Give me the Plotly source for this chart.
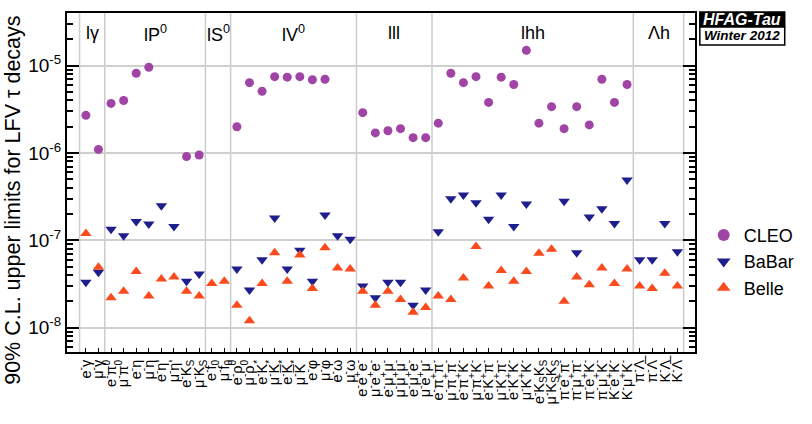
import plotly.graph_objects as go
import numpy as np

labels = [
    "e<sup>-</sup>γ", "μ<sup>-</sup>γ",
    "e<sup>-</sup>π<sup>0</sup>", "μ<sup>-</sup>π<sup>0</sup>", "e<sup>-</sup>η", "μ<sup>-</sup>η",
    "e<sup>-</sup>η'", "μ<sup>-</sup>η'", "e<sup>-</sup>K<sub>S</sub>", "μ<sup>-</sup>K<sub>S</sub>",
    "e<sup>-</sup>f<sub>0</sub>", "μ<sup>-</sup>f<sub>0</sub>",
    "e<sup>-</sup>ρ<sup>0</sup>", "μ<sup>-</sup>ρ<sup>0</sup>", "e<sup>-</sup>K<sup>*</sup>", "μ<sup>-</sup>K<sup>*</sup>",
    "e<sup>-</sup>K\u0305<sup>*</sup>", "μ<sup>-</sup>K\u0305<sup>*</sup>", "e<sup>-</sup>φ", "μ<sup>-</sup>φ",
    "e<sup>-</sup>ω", "μ<sup>-</sup>ω",
    "e<sup>-</sup>e<sup>+</sup>e<sup>-</sup>", "μ<sup>-</sup>e<sup>+</sup>e<sup>-</sup>", "e<sup>-</sup>μ<sup>+</sup>μ<sup>-</sup>",
    "μ<sup>-</sup>μ<sup>+</sup>μ<sup>-</sup>", "e<sup>-</sup>μ<sup>+</sup>e<sup>-</sup>", "μ<sup>-</sup>e<sup>+</sup>μ<sup>-</sup>",
    "e<sup>-</sup>π<sup>+</sup>π<sup>-</sup>", "μ<sup>-</sup>π<sup>+</sup>π<sup>-</sup>", "e<sup>-</sup>π<sup>+</sup>K<sup>-</sup>",
    "μ<sup>-</sup>π<sup>+</sup>K<sup>-</sup>", "e<sup>-</sup>K<sup>+</sup>π<sup>-</sup>", "μ<sup>-</sup>K<sup>+</sup>π<sup>-</sup>",
    "e<sup>-</sup>K<sup>+</sup>K<sup>-</sup>", "μ<sup>-</sup>K<sup>+</sup>K<sup>-</sup>", "e<sup>-</sup>K<sub>S</sub>K<sub>S</sub>",
    "μ<sup>-</sup>K<sub>S</sub>K<sub>S</sub>", "π<sup>-</sup>e<sup>+</sup>π<sup>-</sup>", "π<sup>-</sup>μ<sup>+</sup>π<sup>-</sup>",
    "π<sup>-</sup>e<sup>+</sup>K<sup>-</sup>", "π<sup>-</sup>μ<sup>+</sup>K<sup>-</sup>", "K<sup>-</sup>e<sup>+</sup>K<sup>-</sup>",
    "K<sup>-</sup>μ<sup>+</sup>K<sup>-</sup>",
    "π<sup>-</sup>Λ", "π<sup>-</sup>Λ\u0305", "K<sup>-</sup>Λ", "K<sup>-</sup>Λ\u0305",
]

group_names = ["lγ", "lP<sup>0</sup>", "lS<sup>0</sup>", "lV<sup>0</sup>", "lll", "lhh", "Λh"]
group_sizes = [2, 8, 2, 10, 6, 16, 4]

cleo = [2.7e-6, 1.1e-6,
        3.7e-6, 4.0e-6, 8.2e-6, 9.6e-6, None, None, 9.1e-7, 9.5e-7,
        None, None,
        2.0e-6, 6.4e-6, 5.1e-6, 7.5e-6, 7.4e-6, 7.5e-6, 6.9e-6, 7.0e-6, None, None,
        2.9e-6, 1.7e-6, 1.8e-6, 1.9e-6, 1.5e-6, 1.5e-6,
        2.2e-6, 8.2e-6, 6.4e-6, 7.5e-6, 3.8e-6, 7.4e-6, 6.1e-6, 1.5e-5,
        2.2e-6, 3.4e-6, 1.9e-6, 3.4e-6, 2.1e-6, 7.0e-6, 3.8e-6, 6.1e-6,
        None, None, None, None]

babar = [3.3e-8, 4.3e-8,
         1.34e-7, 1.13e-7, 1.64e-7, 1.54e-7, 2.48e-7, 1.44e-7, 3.4e-8, 4.1e-8,
         None, None,
         4.7e-8, 2.7e-8, 6.0e-8, 1.8e-7, 4.7e-8, 7.7e-8, 3.4e-8, 1.95e-7, 1.13e-7, 1.03e-7,
         3.0e-8, 2.2e-8, 3.3e-8, 3.3e-8, 1.8e-8, 2.7e-8,
         1.25e-7, 3.0e-7, 3.3e-7, 2.7e-7, 1.74e-7, 3.3e-7, 1.44e-7, 2.6e-7,
         None, None, 2.8e-7, 7.2e-8, 1.85e-7, 2.3e-7, 1.56e-7, 4.9e-7,
         6.0e-8, 6.0e-8, 1.56e-7, 7.4e-8]

belle = [1.2e-7, 4.9e-8,
         2.2e-8, 2.6e-8, 4.4e-8, 2.3e-8, 3.6e-8, 3.8e-8, 2.6e-8, 2.3e-8,
         3.2e-8, 3.4e-8,
         1.8e-8, 1.2e-8, 3.2e-8, 7.2e-8, 3.4e-8, 6.8e-8, 2.8e-8, 8.2e-8, 4.8e-8, 4.7e-8,
         2.6e-8, 1.8e-8, 2.6e-8, 2.1e-8, 1.5e-8, 1.7e-8,
         2.3e-8, 2.1e-8, 3.7e-8, 8.5e-8, 3.0e-8, 4.5e-8, 3.4e-8, 4.4e-8,
         7.1e-8, 7.9e-8, 2.0e-8, 3.8e-8, 3.1e-8, 4.8e-8, 3.2e-8, 4.7e-8,
         3.0e-8, 2.8e-8, 4.2e-8, 3.0e-8]

FONT = "Liberation Sans, Arial, sans-serif"
x = list(range(len(labels)))

fig = go.Figure()
fig.add_trace(go.Scatter(x=x, y=cleo, mode="markers", name="CLEO",
                         marker=dict(symbol="circle", size=9, color="#a044a6")))
fig.add_trace(go.Scatter(x=x, y=babar, mode="markers", name="BaBar",
                         marker=dict(symbol="triangle-down", size=10, color="#1e1e8c")))
fig.add_trace(go.Scatter(x=x, y=belle, mode="markers", name="Belle",
                         marker=dict(symbol="triangle-up", size=10, color="#fa4a1e")))

# group separators and group titles
shapes = []
annotations = []
edges = np.concatenate([[0], np.cumsum(group_sizes)]) - 0.5
for e in edges:
    shapes.append(dict(type="line", xref="x", yref="paper", x0=e, x1=e, y0=0, y1=1,
                       line=dict(color="#cccccc", width=1.5), layer="below"))
for i, name in enumerate(group_names):
    c = (edges[i] + edges[i + 1]) / 2
    annotations.append(dict(x=c, y=0.941, xref="x", yref="paper", text=name, showarrow=False,
                            font=dict(family=FONT, size=18, color="black"),
                            xanchor="center", yanchor="middle"))

# HFAG badge
W, H = 651.0, 339.3
def px(v):
    return (v - 67) / W
def py(v):
    return (352.3 - v) / H
shapes.append(dict(type="rect", xref="paper", yref="paper", x0=px(723), x1=px(811),
                   y0=py(27), y1=py(12), fillcolor="black", line=dict(color="black", width=1.5)))
shapes.append(dict(type="rect", xref="paper", yref="paper", x0=px(723), x1=px(811),
                   y0=py(45), y1=py(27), fillcolor="white", line=dict(color="black", width=1.5)))
annotations.append(dict(x=px(767), y=py(19.5), xref="paper", yref="paper", showarrow=False,
                        text="<b><i>HFAG-Tau</i></b>", font=dict(family=FONT, size=16, color="white"),
                        xanchor="center", yanchor="middle"))
annotations.append(dict(x=px(767), y=py(36), xref="paper", yref="paper", showarrow=False,
                        text="<b><i>Winter 2012</i></b>", font=dict(family=FONT, size=13.5, color="black"),
                        xanchor="center", yanchor="middle"))
# y title
annotations.append(dict(x=px(11), y=py(200), xref="paper", yref="paper", showarrow=False,
                        text="90% C.L. upper limits for LFV τ decays", textangle=-90,
                        font=dict(family=FONT, size=21.5, color="black"),
                        xanchor="center", yanchor="middle"))

decades = [1e-8, 1e-7, 1e-6, 1e-5]
minor_vals = [m * d for d in [1e-9, 1e-8, 1e-7, 1e-6, 1e-5] for m in range(2, 10)]

fig.update_layout(
    width=812, height=424,
    margin=dict(l=67, r=94, t=13, b=72),
    plot_bgcolor="white", paper_bgcolor="white",
    font=dict(family=FONT, color="black"),
    shapes=shapes, annotations=annotations,
    legend=dict(x=px(727), y=py(217), xanchor="left", yanchor="top",
                font=dict(family=FONT, size=18, color="black"),
                bgcolor="rgba(0,0,0,0)", itemsizing="constant"),
    xaxis=dict(range=[-1.5, 48.4], tickmode="array", tickvals=x, ticktext=labels,
               tickangle=-90, tickfont=dict(family=FONT, size=14.5, color="black"),
               showgrid=False, zeroline=False, showline=True, linecolor="black", linewidth=2,
               mirror=True, ticks="inside", ticklen=4, tickcolor="black"),
    yaxis=dict(type="log", range=[np.log10(5.25e-9), np.log10(4.02e-5)],
               tickmode="array", tickvals=decades,
               ticktext=["10<sup>-8</sup>", "10<sup>-7</sup>", "10<sup>-6</sup>", "10<sup>-5</sup>"],
               tickfont=dict(family=FONT, size=19, color="black"),
               showgrid=True, gridcolor="#cfcfcf", gridwidth=1.5, zeroline=False,
               showline=True, linecolor="black", linewidth=2, mirror="ticks",
               ticks="inside", ticklen=12, tickcolor="black", tickwidth=1.5,
               minor=dict(tickvals=minor_vals, ticks="inside", ticklen=6, tickcolor="black", showgrid=False)),
)

fig.write_html("out.html")
